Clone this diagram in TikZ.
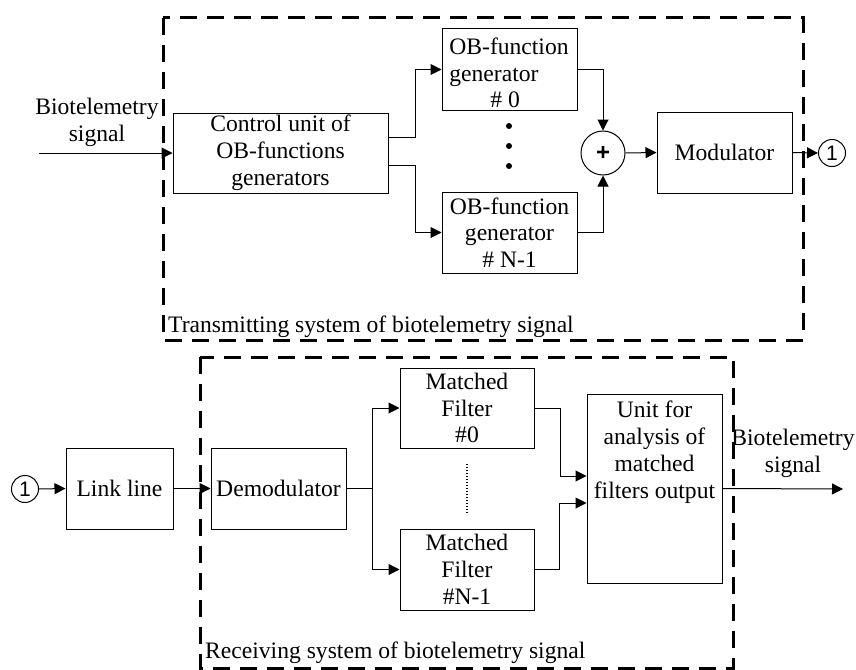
\documentclass[tikz,border=0pt]{standalone}
\usepackage{fontspec}
\setmainfont{Liberation Serif}
\newfontfamily\sansf{Liberation Sans}
\usetikzlibrary{arrows.meta}
\begin{document}
\begin{tikzpicture}[x=1pt,y=-1pt,
  every node/.style={font=\fontsize{23.6}{26.8}\selectfont},
  blk/.style={draw, line width=1pt, inner sep=0pt, align=center},
  ring/.style={draw, circle, line width=1pt, inner sep=0pt},
  arr/.style={-{Triangle[length=11pt,width=11pt]}, line width=1pt},
  ln/.style={line width=1pt},
  grp/.style={draw, line width=3pt, dash pattern=on 17pt off 10pt}]
\useasboundingbox (0,0) rectangle (856,669);
% group frames
\draw[grp] (163,18) rectangle (803,340);
\draw[grp] (200,357) rectangle (733,668);
\node[anchor=base west, inner sep=0pt] (tlab) at (168,332) {Transmitting system of biotelemetry signal};
\node[anchor=base west, inner sep=0pt] (rlab) at (205,658) {Receiving system of biotelemetry signal};
% transmitter
\node[blk, minimum width=215pt, minimum height=80pt] (ctrl) at (280.5,153) {Control unit of\\OB-functions\\generators};
\node[blk, minimum width=135pt, minimum height=81pt] (gen0) at (509.5,69.5) {};
\node[align=left, inner sep=0pt] (gen0t) at (509,73) {OB-function\\generator\\\hspace*{41pt}\# 0};
\node[blk, minimum width=135pt, minimum height=81pt] (genN) at (509.5,232.5) {OB-function\\generator\\\# N-1};
\fill (509,126) circle (3pt) (509,146) circle (3pt) (509,166) circle (3pt);
\node[ring, minimum size=44pt, font=\sansf\bfseries\fontsize{24}{24}\selectfont] (sum) at (603,153) {+};
\node[blk, minimum width=135pt, minimum height=81pt] (mod) at (724.5,152.5) {Modulator};
\node[ring, minimum size=27pt, font=\sansf\fontsize{21}{21}\selectfont] (c1a) at (832,153) {1};
\node[align=center, inner sep=0pt] (bsin) at (97,122) {Biotelemetry\\signal};
\coordinate (bin) at (39,153);
\draw[arr] (bin) -- (ctrl.west);
\draw[arr] ([yshift=16pt]ctrl.east) -- ++(27,0) |- (gen0.west);
\draw[arr] ([yshift=-12pt]ctrl.east) -- ++(27,0) |- (genN.west);
\draw[arr] (gen0.east) -| (sum.north);
\draw[arr] (genN.east) -| (sum.south);
\draw[arr] (sum.east) -- (mod.west);
\draw[arr] (mod.east) -- (c1a.west);
% receiver
\node[ring, minimum size=27pt, font=\sansf\fontsize{21}{21}\selectfont] (c1b) at (25,489) {1};
\node[blk, minimum width=107pt, minimum height=81pt] (link) at (119.5,488.5) {Link line};
\node[blk, minimum width=135pt, minimum height=81pt] (demod) at (278.5,488.5) {Demodulator};
\node[blk, minimum width=134pt, minimum height=80pt] (mf0) at (467,408) {Matched\\Filter\\\#0};
\node[blk, minimum width=134pt, minimum height=81pt] (mfN) at (467,569.5) {Matched\\Filter\\\#N-1};
\draw[ln, dotted, line width=1.4pt] (467,464) -- (467,513);
\node[blk, minimum width=135pt, minimum height=189pt] (unit) at (654.5,488.5) {};
\node[align=center, inner sep=0pt] (unitt) at (654.5,452) {Unit for\\analysis of\\matched\\filters output};
\node[align=center, inner sep=0pt] (bsout) at (793,453) {Biotelemetry\\signal};
\coordinate (bout) at (843,489);
\draw[arr] (c1b.east) -- (link.west);
\draw[arr] (link.east) -- (demod.west);
\draw[arr] (demod.east) -- ++(26,0) |- (mf0.west);
\draw[arr] (demod.east) -- ++(26,0) |- (mfN.west);
\draw[arr] (mf0.east) -- ++(26,0) |- ([yshift=12.5pt]unit.west);
\draw[arr] (mfN.east) -- ++(25,0) |- ([yshift=-14.5pt]unit.west);
\draw[arr] (unit.east) -- (bout);
\end{tikzpicture}
\end{document}
